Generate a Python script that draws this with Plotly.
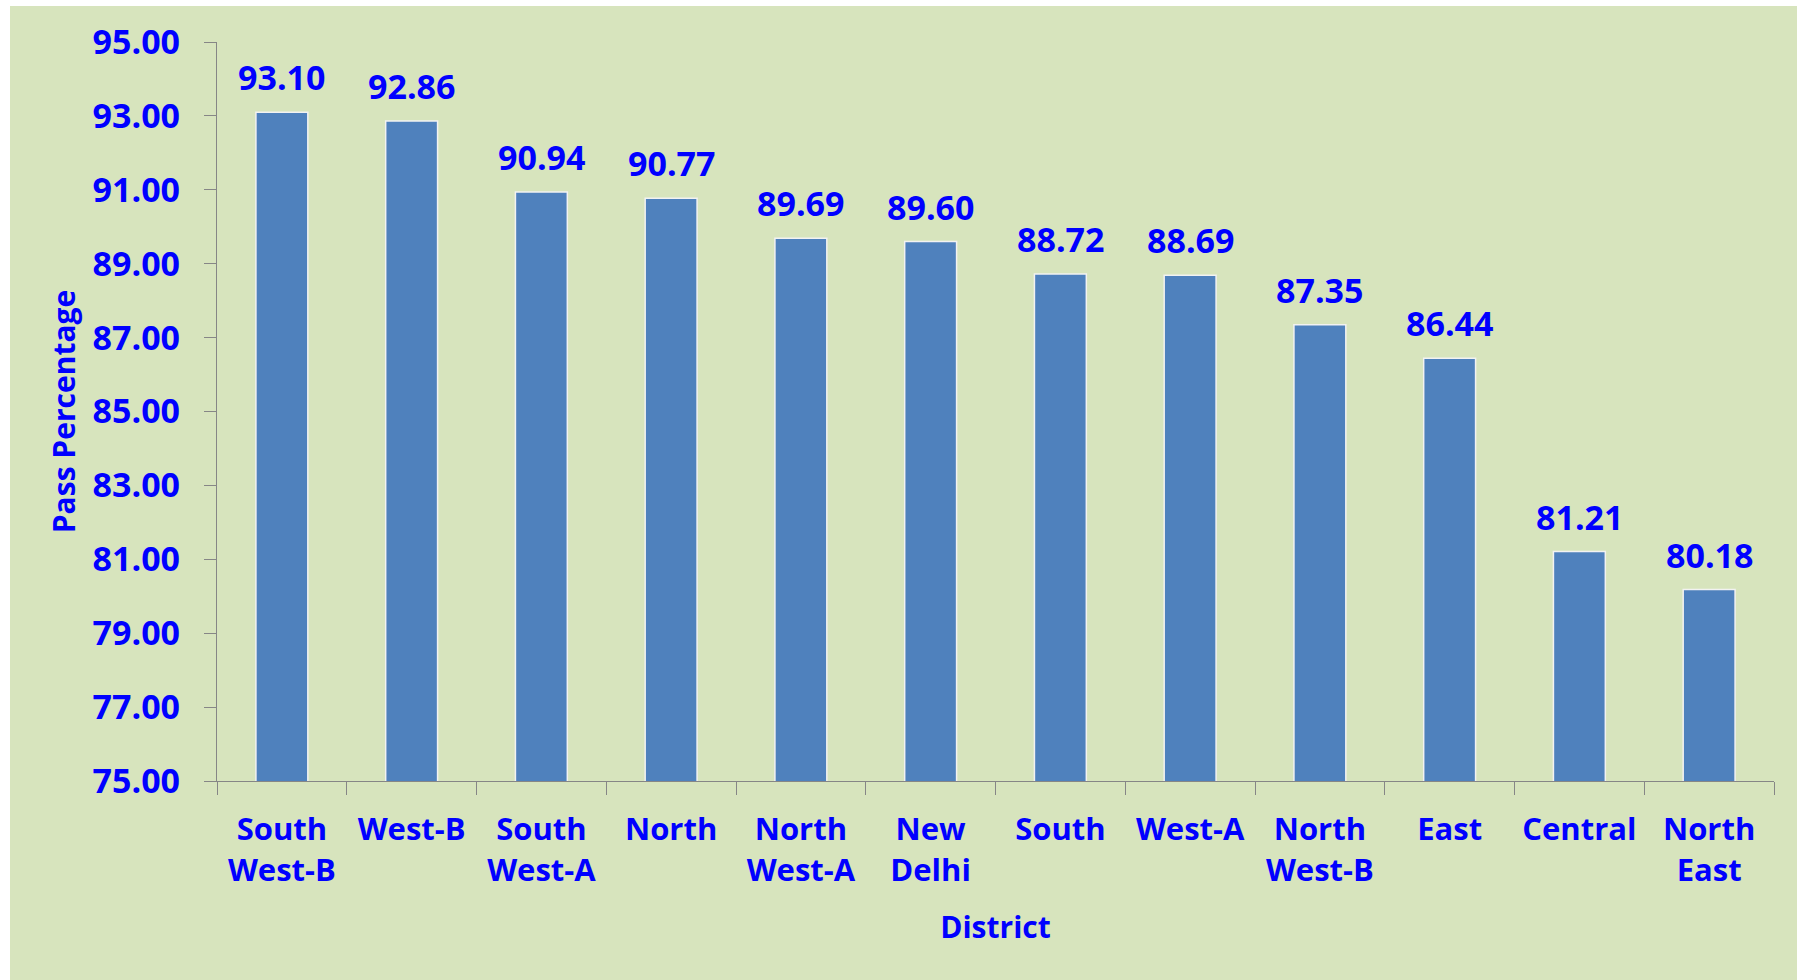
import plotly.graph_objects as go

districts = ["South<br>West-B", "West-B", "South<br>West-A", "North", "North<br>West-A",
             "New<br>Delhi", "South", "West-A", "North<br>West-B", "East", "Central", "North<br>East"]
pass_pct = [93.10, 92.86, 90.94, 90.77, 89.69, 89.60, 88.72, 88.69, 87.35, 86.44, 81.21, 80.18]
y_ticks = [75, 77, 79, 81, 83, 85, 87, 89, 91, 93, 95]

BLUE = "#0000FF"
GREEN = "#D7E4BD"
FONT = "Open Sans"

W, H = 1797, 980
L, T, PW, PH = 217, 42, 1557, 739

fig = go.Figure()
fig.add_trace(go.Bar(
    x=districts, y=pass_pct, width=0.40,
    marker=dict(color="#4F81BD", line=dict(color="#F2F2F2", width=1.5)),
    hoverinfo="skip",
))

for d, v in zip(districts, pass_pct):
    fig.add_annotation(x=d, y=v, text=f"{v:.2f}", showarrow=False,
                       yanchor="middle", yshift=35,
                       font=dict(family=FONT, size=34, color=BLUE, weight="bold"))

# green background panel
fig.add_shape(type="rect", xref="paper", yref="paper",
              x0=(10 - L) / PW, x1=(W + 20 - L) / PW,
              y0=(T + PH - H - 20) / PH, y1=(T + PH - 6) / PH,
              fillcolor=GREEN, line=dict(width=0), layer="below")

fig.update_layout(
    width=W, height=H,
    margin=dict(l=L, r=W - L - PW, t=T, b=H - T - PH),
    paper_bgcolor="white", plot_bgcolor="rgba(0,0,0,0)",
    showlegend=False,
    font=dict(family=FONT, color=BLUE),
    bargap=0.6,
)
fig.update_xaxes(
    type="category", showgrid=False, showline=True, linecolor="#868686", linewidth=1.3,
    ticks="outside", tickson="boundaries", ticklen=13, tickcolor="#868686",
    tickfont=dict(family=FONT, size=31, color=BLUE, weight="bold"),
    ticklabelstandoff=21,
    title=dict(text="District", standoff=28,
               font=dict(family=FONT, size=30, color=BLUE, weight="bold")),
    automargin=False,
)
fig.update_yaxes(
    range=[75, 95], tickvals=y_ticks, tickformat=".2f", showgrid=False, zeroline=False,
    showline=True, linecolor="#868686", linewidth=1.3,
    ticks="outside", ticklen=12, tickcolor="#868686",
    tickfont=dict(family=FONT, size=34, color=BLUE, weight="bold"),
    ticklabelstandoff=17,
    title=dict(text="Pass Percentage", standoff=8,
               font=dict(family=FONT, size=30, color=BLUE, weight="bold")),
    automargin=False,
)

fig.write_html("out.html", config={"displayModeBar": False},
               post_script="document.body.style.margin='0';document.body.style.overflow='hidden';")
